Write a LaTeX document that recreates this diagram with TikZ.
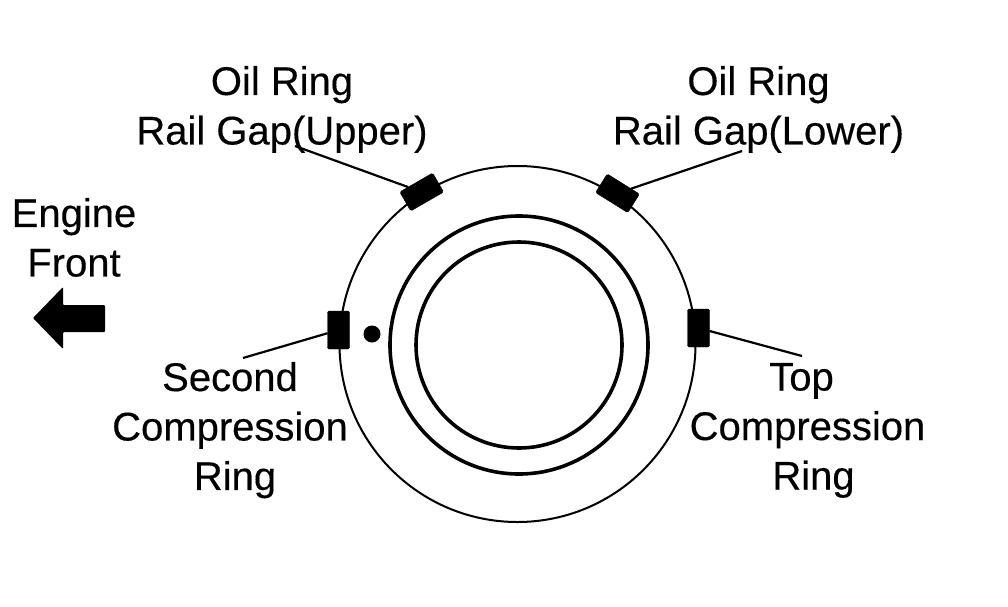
\documentclass[tikz,border=0pt]{standalone}
\usepackage{fontspec}
\setmainfont[FakeBold=0.35]{Liberation Sans}
\begin{document}
\begin{tikzpicture}[x=1pt,y=-1pt,
  lbl/.style={inner sep=0pt,outer sep=0pt,align=center,anchor=north,font=\fontsize{40}{49.5}\selectfont},
  gapbox/.style={draw=black,fill=black,rounded corners=1.5pt,minimum width=38pt,minimum height=22pt,inner sep=0pt,outer sep=0pt},
  leader/.style={line width=2.2pt,black},
  ring/.style={draw=black,line width=3.6pt}]
\useasboundingbox (0,0) rectangle (1008,606);
\node[circle,draw=black,line width=2pt,minimum size=356pt,inner sep=0pt] (outer) at (517.5,344) {};
\node[circle,ring,minimum size=258pt,inner sep=0pt] (mid) at (519,345) {};
\node[circle,ring,minimum size=206pt,inner sep=0pt] (inn) at (519,345) {};
\node[gapbox,rotate=30] (ul) at (421.7,192) {};
\node[gapbox,rotate=-32] (ur) at (617.5,193.3) {};
\node[gapbox,rotate=90] (gl) at (338.5,330) {};
\node[gapbox,rotate=90] (gr) at (698.5,328) {};
\node[circle,fill=black,minimum size=17pt,inner sep=0pt] (dot) at (372,334) {};
\node[lbl] (t1) at (282,66) {Oil Ring\\Rail Gap(Upper)};
\node[lbl] (t2) at (758.5,66) {Oil Ring\\Rail Gap(Lower)};
\node[lbl] (t3) at (74,198) {Engine\\Front};
\node[lbl] (t4) at (230,362) {Second\\Compression\\\hspace*{10pt}Ring};
\node[lbl] (t5) at (807.5,363) {\hspace*{-12pt}Top\\Compression\\\hspace*{12pt}Ring};
\coordinate (c1) at (295,146);
\coordinate (c2) at (742,151);
\coordinate (c3) at (243,358);
\coordinate (c4) at (802,356);
\draw[leader] (c1) -- (ul);
\draw[leader] (c2) -- (ur);
\draw[leader] (c3) -- (gl);
\draw[leader] (c4) -- (gr);
\fill[black,rounded corners=1pt] (33,318) -- (63,287) -- (63,305) -- (105,305) -- (105,332) -- (63,332) -- (63,349) -- cycle;
\end{tikzpicture}
\end{document}
